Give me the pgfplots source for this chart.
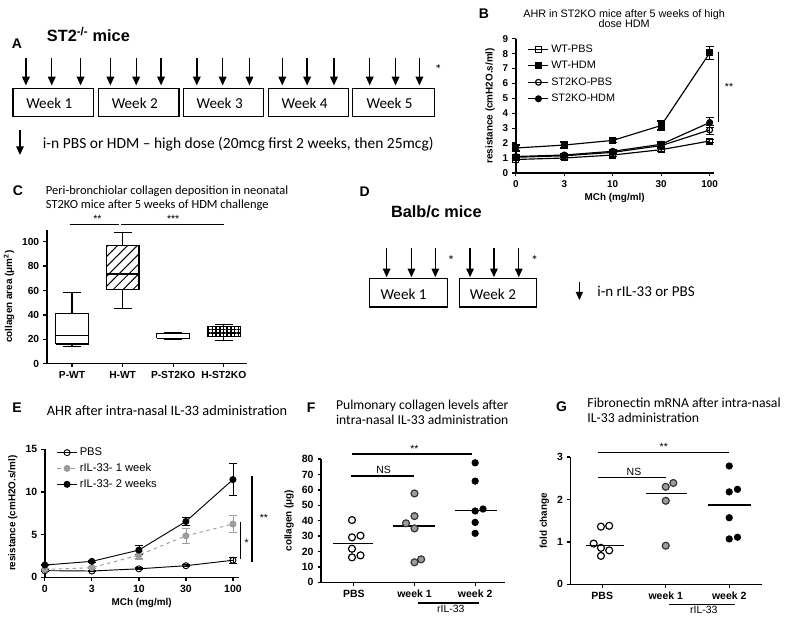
\documentclass[border=0pt]{standalone}
\usepackage{fontspec}
\setmainfont{Liberation Sans}
\newfontfamily\calib{Carlito}
\usepackage{pgfplots}
\pgfplotsset{compat=1.18}
\usetikzlibrary{arrows.meta,patterns.meta}
\definecolor{midgray}{HTML}{9C9C9C}

\newcommand{\fs}[1]{\fontsize{#1}{#1}\selectfont}
\tikzset{sig/.style={line width=1.5pt}}

\pgfplotsset{
  gp/.style={
    scale only axis,
    anchor=south west,
    axis x line*=bottom,
    axis y line*=left,
    axis line style={-,line width=1.3pt},
    tick align=outside,
    major tick length=3pt,
    tick style={black,line width=1.1pt},
    /pgf/number format/assume math mode=true,
    ticklabel style={font=\bfseries\fs{8.5}},
    label style={font=\bfseries\fs{8.5}},
    xlabel style={yshift=2pt},
    clip=false,
  },
}

\begin{document}
\begin{tikzpicture}
\path (0,0) rectangle (24,-18.72);

\begin{scope}[x=0.03cm,y=-0.03cm]
% ---------- A: timeline ----------
\node[font=\bfseries\fs{12}] at (12,44) {A};
\node[font=\bfseries\fs{14}, anchor=west] at (38,35) {ST2\textsuperscript{-/-} mice};
\foreach \x in {21,47,76,106,132,157,193,219,246,279,304,331,367,393,417}
  \draw[-{Triangle[width=6.5pt,length=7.5pt]}, line width=1.2pt] (\x,58) -- (\x,86);
\foreach \a/\b/\w in {8/89/1,94/175/2,180/260/3,265/346/4,350/432/5} {
  \draw[line width=1pt] (\a,89) rectangle (\b,117);
  \node[font=\calib\fs{13}] at ({(\a+\b)/2-4},104) {Week \w};
}
\node[font=\calib\fs{12}] at (436,70) {*};
\draw[-{Triangle[width=6.5pt,length=7.5pt]}, line width=1.2pt] (15,131) -- (15,156);
\node[font=\calib\fs{13.3}, anchor=west] at (34,145) {i-n PBS or HDM – high dose (20mcg first 2 weeks, then 25mcg)};

% ---------- D: timeline ----------
\node[font=\bfseries\fs{12}] at (362,193) {D};
\node[font=\bfseries\fs{14}] at (434,213) {Balb/c mice};
\foreach \x in {384,409,433,468,492,517}
  \draw[-{Triangle[width=6.5pt,length=7.5pt]}, line width=1.2pt] (\x,250) -- (\x,279);
\foreach \a/\b/\w in {367/445/1,457/535/2} {
  \draw[line width=1pt] (\a,280) rectangle (\b,309);
  \node[font=\calib\fs{13}] at ({(\a+\b)/2-5},296) {Week \w};
}
\node[font=\calib\fs{12}] at (449,262) {*};
\node[font=\calib\fs{12}] at (533,262) {*};
\draw[-{Triangle[width=6pt,length=7pt]}, line width=1.2pt] (578,284) -- (578,302);
\node[font=\calib\fs{12.9}, anchor=west] at (592,293) {i-n rIL-33 or PBS};

% ---------- titles ----------
\node[font=\bfseries\fs{12}] at (482,14) {B};
\node[font=\fs{9.3}, align=center] at (623,18.5) {AHR in ST2KO mice after 5 weeks of high\\[-0.5pt]dose HDM};
\node[font=\bfseries\fs{12}] at (13,192) {C};
\node[font=\calib\fs{10.7}, anchor=west, align=left] at (37,199.5) {Peri-bronchiolar collagen deposition in neonatal\\[1pt]ST2KO mice after 5 weeks of HDM challenge};
\node[font=\bfseries\fs{12}] at (12,410) {E};
\node[font=\calib\fs{12.3}, anchor=west] at (38,413) {AHR after intra-nasal IL-33 administration};
\node[font=\bfseries\fs{12}] at (308,410) {F};
\node[font=\calib\fs{11.7}, anchor=west, align=left] at (329,415) {Pulmonary collagen levels after\\[1pt]intra-nasal IL-33 administration};
\node[font=\bfseries\fs{12}] at (560,409) {G};
\node[font=\calib\fs{11.8}, anchor=west, align=left] at (582,413) {Fibronectin mRNA after intra-nasal\\[1pt]IL-33 administration};
\end{scope}

% ---------- B: AHR ST2KO ----------
\begin{axis}[gp, at={(15.42cm,-5.22cm)}, width=5.97cm, height=4.05cm,
  xmin=0, xmax=4.08, ymin=0, ymax=9,
  xtick={0,...,4}, xticklabels={0,3,10,30,100}, ytick={0,...,9},
  xlabel={MCh (mg/ml)}, ylabel={resistance (cmH2O.s/ml)},
  every axis plot/.append style={black, line width=1pt, mark size=2.5pt},
  error bars/error mark options={rotate=90, mark size=3.5pt, line width=1pt},
  legend style={at={(0.06,0.975)}, anchor=north west, draw=none, fill=none,
    font=\fs{9.3}, inner sep=0pt, row sep=2.2pt},
  legend cell align=left]
\addplot[mark=square, mark options={fill=white}, error bars/.cd, y dir=both, y explicit]
  coordinates {(0,0.9)+-(0,0.08) (1,1.0)+-(0,0.08) (2,1.2)+-(0,0.08) (3,1.56)+-(0,0.1) (4,2.14)+-(0,0.1)};
\addlegendentry{WT-PBS}
\addplot[mark=square*, error bars/.cd, y dir=both, y explicit]
  coordinates {(0,1.67)+-(0,0.2) (1,1.87)+-(0,0.2) (2,2.18)+-(0,0.13) (3,3.18)+-(0,0.3) (4,8.05)+-(0,0.45)};
\addlegendentry{WT-HDM}
\addplot[mark=o, mark options={fill=white}, error bars/.cd, y dir=both, y explicit]
  coordinates {(0,1.05)+-(0,0.1) (1,1.15)+-(0,0.1) (2,1.38)+-(0,0.1) (3,1.83)+-(0,0.12) (4,2.88)+-(0,0.3)};
\addlegendentry{ST2KO-PBS}
\addplot[mark=*, error bars/.cd, y dir=both, y explicit]
  coordinates {(0,1.1)+-(0,0.1) (1,1.2)+-(0,0.1) (2,1.45)+-(0,0.1) (3,1.92)+-(0,0.15) (4,3.38)+-(0,0.35)};
\addlegendentry{ST2KO-HDM}
\draw[sig] (axis cs:4.18,8.1) -- (axis cs:4.18,3.4);
\node[font=\fs{9}] at (axis cs:4.4,5.75) {**};
\end{axis}

% ---------- C: collagen box-and-whisker ----------
\begin{axis}[gp, at={(1.26cm,-10.98cm)}, width=6.03cm, height=4.05cm,
  xmin=0.5, xmax=4.45, ymin=0, ymax=110,
  xtick={1,2,3,4}, xticklabels={P-WT,H-WT,P-ST2KO,H-ST2KO}, ytick={0,20,...,100},
  ticklabel style={font=\bfseries\fs{8.8}},
  ylabel={collagen area (μm\textsuperscript{2})},
  every axis plot/.append style={black, line width=1pt, mark=none}]
% P-WT: 14.2 / 16.1 / 23.2 / 41.4 / 58.6
\addplot[black] coordinates {(1,41.4) (1,58.6)};
\addplot[black] coordinates {(0.82,58.6) (1.18,58.6)};
\addplot[black] coordinates {(1,16.1) (1,14.2)};
\addplot[black] coordinates {(0.82,14.2) (1.18,14.2)};
\addplot[black, fill=white] coordinates {(0.675,16.1) (1.325,16.1) (1.325,41.4) (0.675,41.4) (0.675,16.1)};
\addplot[black] coordinates {(0.675,23.2) (1.325,23.2)};
% H-WT: 45 / 61 / 73.6 / 96.7 / 107.4
\addplot[black] coordinates {(2,96.7) (2,107.4)};
\addplot[black] coordinates {(1.82,107.4) (2.18,107.4)};
\addplot[black] coordinates {(2,61) (2,45)};
\addplot[black] coordinates {(1.82,45) (2.18,45)};
\addplot[black, pattern={Lines[angle=45,distance=6pt,line width=0.9pt]}] coordinates
  {(1.675,61) (2.325,61) (2.325,96.7) (1.675,96.7) (1.675,61)};
\addplot[black] coordinates {(1.675,73.6) (2.325,73.6)};
% P-ST2KO: 20 / 21 / 23 / 24.8 / 25.5
\addplot[black] coordinates {(2.82,25.5) (3.18,25.5)};
\addplot[black] coordinates {(2.82,20.2) (3.18,20.2)};
\addplot[black, fill=white] coordinates {(2.675,21) (3.325,21) (3.325,24.8) (2.675,24.8) (2.675,21)};
% H-ST2KO: 19.2 / 22.3 / 27 / 30.5 / 32.2
\addplot[black] coordinates {(4,30.5) (4,32.2)};
\addplot[black] coordinates {(3.82,32.2) (4.18,32.2)};
\addplot[black] coordinates {(4,22.3) (4,19.2)};
\addplot[black] coordinates {(3.82,19.2) (4.18,19.2)};
\addplot[black, pattern={Hatch[angle=0,distance=3.2pt,line width=1.3pt]}] coordinates
  {(3.675,22.3) (4.325,22.3) (4.325,30.5) (3.675,30.5) (3.675,22.3)};
\draw[line width=1.2pt] (axis cs:0.95,114) -- (axis cs:1.93,114);
\draw[line width=1.2pt] (axis cs:1.97,114) -- (axis cs:4.0,114);
\node[font=\fs{9}] at (axis cs:1.5,118.5) {**};
\node[font=\fs{9}] at (axis cs:3.0,118.5) {***};
\end{axis}

% ---------- E: AHR IL-33 ----------
\begin{axis}[gp, at={(1.2cm,-17.43cm)}, width=5.85cm, height=3.87cm,
  xmin=0, xmax=4.12, ymin=0, ymax=15,
  xtick={0,...,4}, xticklabels={0,3,10,30,100}, ytick={0,5,10,15},
  ticklabel style={font=\bfseries\fs{9}},
  xlabel={MCh (mg/ml)}, ylabel={resistance (cmH2O.s/ml)},
  every axis plot/.append style={line width=0.8pt, mark size=2.6pt},
  error bars/error mark options={rotate=90, mark size=3.5pt, line width=1pt},
  legend style={at={(0.06,1.03)}, anchor=north west, draw=none, fill=none,
    font=\fs{9.6}, inner sep=0pt, row sep=1.2pt},
  legend cell align=left]
\addplot[black, mark=o, mark options={fill=white, solid}, error bars/.cd, y dir=both, y explicit]
  coordinates {(0,0.78)+-(0,0.1) (1,0.74)+-(0,0.1) (2,1.0)+-(0,0.1) (3,1.36)+-(0,0.1) (4,2.0)+-(0,0.35)};
\addlegendentry{PBS}
\addplot[midgray, dashed, mark=*, mark options={solid}, error bars/.cd, y dir=both, y explicit,
  error bar style={solid}]
  coordinates {(0,0.93)+-(0,0.1) (1,1.13)+-(0,0.1) (2,2.6)+-(0,0.45) (3,4.86)+-(0,0.9) (4,6.23)+-(0,1.0)};
\addlegendentry{rIL-33- 1 week}
\addplot[black, mark=*, error bars/.cd, y dir=both, y explicit]
  coordinates {(0,1.44)+-(0,0.1) (1,1.87)+-(0,0.1) (2,3.19)+-(0,0.55) (3,6.54)+-(0,0.5) (4,11.44)+-(0,1.9)};
\addlegendentry{rIL-33- 2 weeks}
\draw[sig] (axis cs:4.16,6.5) -- (axis cs:4.16,2.1);
\draw[sig] (axis cs:4.40,11.86) -- (axis cs:4.40,1.74);
\node[font=\fs{9}] at (axis cs:4.29,4.0) {*};
\node[font=\fs{9}] at (axis cs:4.66,7.0) {**};
\end{axis}

% ---------- F: collagen scatter ----------
\begin{axis}[gp, at={(9.54cm,-17.58cm)}, width=5.55cm, height=3.72cm,
  xmin=0.46, xmax=3.49, ymin=0, ymax=80,
  xtick={1,2,3}, xticklabels={PBS,week 1,week 2}, ytick={0,10,...,80},
  ticklabel style={font=\bfseries\fs{9}},
  ylabel={collagen (μg)},
  every axis plot/.append style={line width=1pt, mark size=3pt}]
\addplot[only marks, mark=o, mark options={fill=white}] coordinates
  {(0.97,40.4) (0.97,29.2) (1.11,30.3) (0.97,21.8) (0.97,16.2) (1.11,17.5)};
\addplot[only marks, mark=*, mark options={fill=midgray, draw=black!80}] coordinates
  {(2.0,57.7) (2.0,43) (1.86,38.3) (2.0,35) (2.0,13) (2.11,14.9)};
\addplot[only marks, mark=*, black, mark size=2.6pt] coordinates
  {(3.0,77.6) (3.0,65.7) (3.0,46.3) (3.13,47.6) (3.0,38.9) (3.0,31.8)};
\addplot[black, line width=1.2pt] coordinates {(0.66,25.1) (1.31,25.1)};
\addplot[black, line width=1.2pt] coordinates {(1.64,36.5) (2.33,36.5)};
\addplot[black, line width=1.2pt] coordinates {(2.66,46.5) (3.36,46.5)};
\draw[sig] (axis cs:0.95,69) -- (axis cs:2.0,69);
\node[font=\fs{9}, anchor=south, inner sep=1pt] at (axis cs:1.49,69.5) {NS};
\draw[sig] (axis cs:0.97,83.2) -- (axis cs:2.95,83.2);
\node[font=\fs{9}, anchor=south, inner sep=1pt] at (axis cs:2.0,83.5) {**};
\draw[line width=1.2pt] (axis cs:2.05,-13.5) -- (axis cs:3.07,-13.5);
\node[font=\fs{9}, anchor=north, inner sep=1.5pt] at (axis cs:2.6,-13.5) {rIL-33};
\end{axis}

% ---------- G: fibronectin scatter ----------
\begin{axis}[gp, at={(17.07cm,-17.64cm)}, width=5.79cm, height=3.84cm,
  xmin=0.5, xmax=3.52, ymin=0, ymax=3,
  xtick={1,2,3}, xticklabels={PBS,week 1,week 2}, ytick={0,1,2,3},
  ticklabel style={font=\bfseries\fs{9}},
  ylabel={fold change},
  every axis plot/.append style={line width=1pt, mark size=3pt}]
\addplot[only marks, mark=o, mark options={fill=white}] coordinates
  {(0.98,1.36) (1.11,1.38) (0.865,0.96) (0.98,0.86) (1.11,0.80) (0.98,0.67)};
\addplot[only marks, mark=*, mark options={fill=midgray, draw=black!80}] coordinates
  {(2.0,2.30) (2.12,2.39) (2.0,1.97) (2.0,0.91)};
\addplot[only marks, mark=*, black, mark size=2.6pt] coordinates
  {(3.0,2.79) (3.0,2.18) (3.13,2.24) (3.0,1.57) (3.0,1.07) (3.13,1.11)};
\addplot[black, line width=1.2pt] coordinates {(0.75,0.91) (1.34,0.91)};
\addplot[black, line width=1.2pt] coordinates {(1.69,2.14) (2.34,2.14)};
\addplot[black, line width=1.2pt] coordinates {(2.67,1.87) (3.35,1.87)};
\draw[sig] (axis cs:0.94,2.52) -- (axis cs:2.0,2.52);
\node[font=\fs{9}, anchor=south, inner sep=1pt] at (axis cs:1.5,2.53) {NS};
\draw[sig] (axis cs:0.94,3.11) -- (axis cs:3.0,3.11);
\node[font=\fs{9}, anchor=south, inner sep=1pt] at (axis cs:1.97,3.12) {**};
\draw[line width=1.2pt] (axis cs:2.05,-0.47) -- (axis cs:3.09,-0.47);
\node[font=\fs{9}, anchor=north, inner sep=1.5pt] at (axis cs:2.6,-0.47) {rIL-33};
\end{axis}
\end{tikzpicture}
\end{document}
